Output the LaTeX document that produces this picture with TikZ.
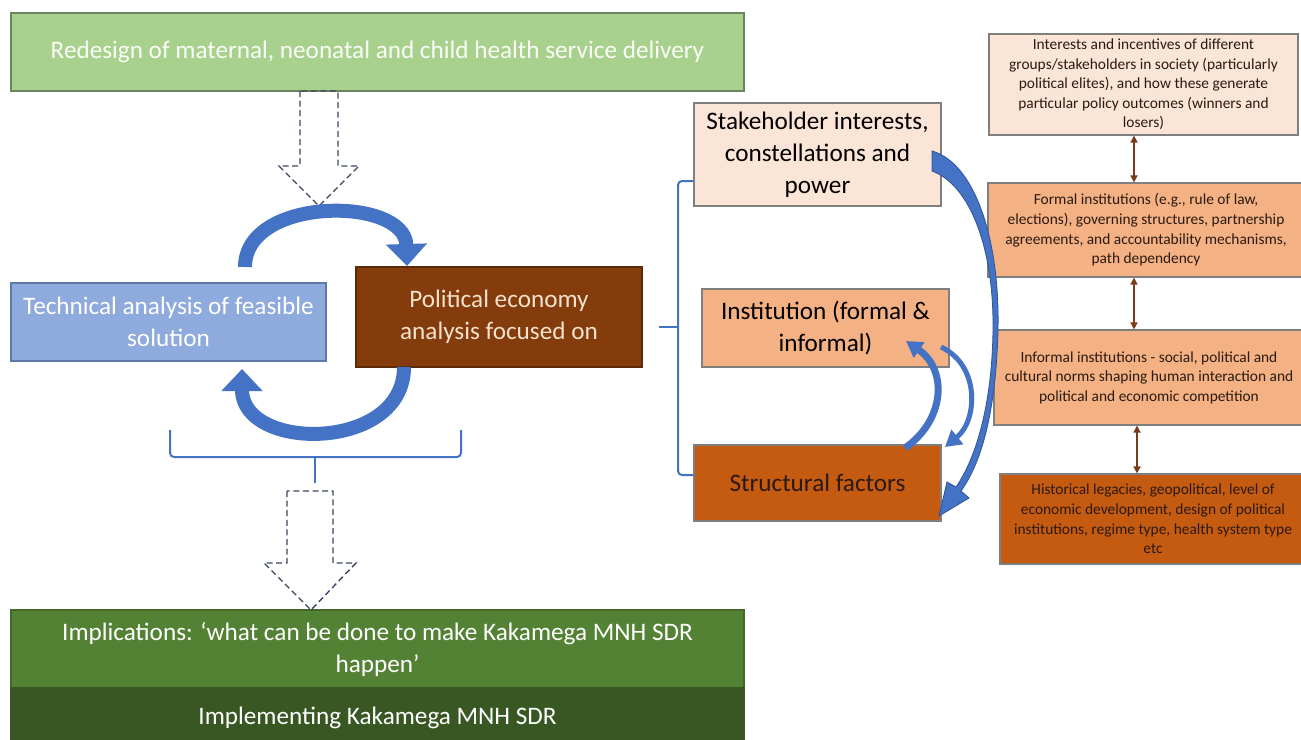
\documentclass[tikz,border=0pt]{standalone}
\usepackage{fontspec}
\setmainfont{Carlito}
\usetikzlibrary{arrows.meta,calc}
\definecolor{cTitle}{HTML}{A9D18E}
\definecolor{cTitleB}{HTML}{6B8460}
\definecolor{cTech}{HTML}{8FAADC}
\definecolor{cTechB}{HTML}{5E78A8}
\definecolor{cPol}{HTML}{843C0C}
\definecolor{cPolT}{HTML}{F6E2CC}
\definecolor{cImpl}{HTML}{548235}
\definecolor{cImpl2}{HTML}{385723}
\definecolor{cPale}{HTML}{FBE5D6}
\definecolor{cMid}{HTML}{F4B183}
\definecolor{cDark}{HTML}{C55A11}
\definecolor{cGrayB}{HTML}{7F7F7F}
\definecolor{cBlue}{HTML}{4472C4}
\definecolor{cBlueD}{HTML}{2F5597}
\definecolor{cBrown}{HTML}{7A3B1A}
\definecolor{cDash}{HTML}{3A4660}
\definecolor{cTxtDark}{HTML}{2A1A12}
\begin{document}
\begin{tikzpicture}[x=0.5pt,y=-0.5pt,
  box/.style={draw, line width=0.6pt, inner sep=0pt, align=center,
    font=\fontsize{12.6}{16}\selectfont},
  rbox/.style={draw=cGrayB, line width=0.6pt, inner sep=0pt, align=center,
    text=cTxtDark, font=\fontsize{7.7}{9.8}\selectfont},
  hollow/.style={draw=cDash, line width=0.7pt, dash pattern=on 3pt off 1.8pt},
  circarrow/.style={draw=cBlue, line width=7pt, -{Triangle[width=20pt,length=11pt]}},
  smallarrow/.style={draw=cBlue, -{Triangle[width=9pt,length=8pt]}},
  brace/.style={draw=cBlue, line width=1pt, rounded corners=2pt},
  twoway/.style={draw=cBrown, line width=0.8pt, {Triangle[width=3.5pt,length=3.5pt]}-{Triangle[width=3.5pt,length=3.5pt]}}
]
\clip (0,0) rectangle (1301,739);
\fill[white] (0,0) rectangle (1301,739);

% left column boxes
\node[box, fill=cTitle, draw=cTitleB, text=white!94!cTitle, minimum width=366.5pt, minimum height=39pt]
  (title) at (377.5,52) {Redesign of maternal, neonatal and child health service delivery};
\node[box, fill=cTech, draw=cTechB, text=white, minimum width=157.5pt, minimum height=39pt]
  (tech) at (168.5,322) {Technical analysis of feasible\\solution};
\node[box, fill=cPol, draw=cPol!70!black, text=cPolT, minimum width=143pt, minimum height=50pt]
  (pol) at (499,317) {Political economy\\analysis focused on};
\node[box, fill=cImpl, draw=cImpl!80!black, text=white, minimum width=366.5pt, minimum height=39pt]
  (impl) at (377.5,649) {Implications: ‘what can be done to make Kakamega MNH SDR\\happen’};
\node[box, fill=cImpl2, draw=cImpl2, text=white, minimum width=366.5pt, minimum height=30pt]
  (implem) at (377.5,718) {Implementing Kakamega MNH SDR};

% middle column boxes
\node[box, fill=cPale, draw=cGrayB, text=black, minimum width=123.5pt, minimum height=51.5pt]
  (stake) at (817.5,154.5) {Stakeholder interests,\\constellations and\\power};
\node[box, fill=cMid, draw=cGrayB, text=black, minimum width=123.5pt, minimum height=39pt]
  (inst) at (825.5,328) {Institution (formal \&\\informal)};
\node[box, fill=cDark, draw=cGrayB, text=cTxtDark, minimum width=123.5pt, minimum height=38pt]
  (struct) at (817.5,483) {Structural factors};

% right column boxes
\node[rbox, fill=cPale, minimum width=154.5pt, minimum height=50.5pt] (r1) at (1143.5,84.5)
  {Interests and incentives of different\\groups/stakeholders in society (particularly\\political elites), and how these generate\\particular policy outcomes (winners and\\losers)};
\node[rbox, fill=cMid, minimum width=158pt, minimum height=47pt] (r2) at (1146,230)
  {Formal institutions (e.g., rule of law,\\elections), governing structures, partnership\\agreements, and accountability mechanisms,\\path dependency};
\node[rbox, fill=cMid, minimum width=155pt, minimum height=47.5pt] (r3) at (1149,377.5)
  {Informal institutions - social, political and\\cultural norms shaping human interaction and\\political and economic competition};
\node[rbox, fill=cDark, minimum width=153pt, minimum height=45pt] (r4) at (1153,519)
  {Historical legacies, geopolitical, level of\\economic development, design of political\\institutions, regime type, health system type\\etc};

% right column two-way arrows
\coordinate (ax1) at (1134,0);
\coordinate (ax3) at (1137,0);
\draw[twoway] (r1.south -| ax1) -- (r2.north -| ax1);
\draw[twoway] (r2.south -| ax1) -- (r3.north -| ax1);
\draw[twoway] (r3.south -| ax3) -- (r4.north -| ax3);

% hollow dashed arrows
\draw[hollow] (300,91) -- (300,166) -- (279,166) -- (319,206) -- (359,166) -- (338,166) -- (338,91) -- cycle;
\draw[hollow] (287,491) -- (287,563) -- (264,563) -- (311,610) -- (356,563) -- (333,563) -- (333,491) -- cycle;

% circular arrows between tech and pol
\coordinate (ca1) at (245,267);
\coordinate (ca2) at (407,266);
\coordinate (cb1) at (404,367);
\coordinate (cb2) at (242,369);
\draw[circarrow] (ca1) .. controls (245,196) and (405,196) .. (ca2);
\draw[circarrow] (cb1) .. controls (404,452) and (242,452) .. (cb2);

% brace under the loop
\draw[brace] (170,430) -- (170,457) -- (461,457) -- (461,430);
\draw[draw=cBlue, line width=1pt] (315,457) -- (315,483);

% brace joining middle column
\draw[brace] (stake.west |- 0,181) -- (678,181) -- (678,475) -- (struct.west |- 0,475);
\draw[draw=cBlue, line width=1pt] (678,327) -- (659,327);

% big tapered curved arrow stake -> struct
\fill[cBlue, draw=cBlueD, line width=0.4pt]
  (932,151) .. controls (975,163) and (1000,240) .. (998,330)
  .. controls (996,410) and (982,462) .. (961,491)
  -- (969,498) -- (939,516) -- (947,482) -- (956,487)
  .. controls (976,458) and (992,405) .. (993,330)
  .. controls (994,248) and (970,185) .. (932,171) -- cycle;

% small curved arrows between inst and struct
\coordinate (sa1) at (905,448);
\coordinate (sa2) at (906,341);
\coordinate (sb1) at (941,347);
\coordinate (sb2) at (945,447);
\draw[smallarrow, line width=3.5pt] (sa1) .. controls (945,420) and (948,370) .. (sa2);
\draw[smallarrow, line width=2.5pt] (sb1) .. controls (980,365) and (978,420) .. (sb2);
\end{tikzpicture}
\end{document}
